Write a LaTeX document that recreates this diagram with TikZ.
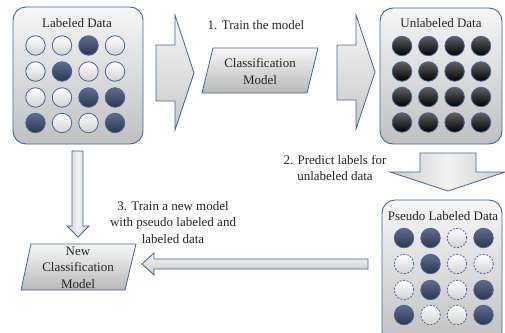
\documentclass[tikz,border=0pt]{standalone}
\usepackage{fontspec}
\setmainfont{Liberation Serif}
\newfontfamily\serft{Liberation Serif}
\definecolor{bcol}{RGB}{70,100,160}
\definecolor{boxtop}{RGB}{246,246,246}
\definecolor{boxbot}{RGB}{192,192,192}
\definecolor{darktop}{RGB}{96,110,140}
\definecolor{darkbot}{RGB}{40,54,82}
\tikzset{
  databox/.style={draw=bcol, line width=0.9pt, rounded corners=13pt, top color=boxtop, bottom color=boxbot},
  blockarrow/.style={draw=bcol, line width=0.8pt, top color=white!97!black, bottom color=black!22},
  vblockarrow/.style={draw=bcol, line width=0.8pt, left color=black!20, right color=black!20, middle color=white!95!black},
  para/.style={draw=bcol, line width=0.8pt, top color=white!97!black, bottom color=black!28},
  wc/.style={circle, minimum size=19.5pt, inner sep=0pt, draw=bcol, line width=0.8pt, top color=white, bottom color=black!18},
  wd/.style={wc, dashed, dash pattern=on 2pt off 1.5pt},
  dc/.style={circle, minimum size=19.5pt, inner sep=0pt, draw=bcol, line width=0.8pt, top color=darktop, bottom color=darkbot},
  bc/.style={circle, minimum size=19.5pt, inner sep=0pt, draw=bcol, line width=0.8pt, top color=black!62, bottom color=black},
  txt/.style={font=\serft\fontsize{13}{16.5}\selectfont, text=black!85, align=center, inner sep=0pt},
}
\begin{document}
\begin{tikzpicture}[x=1pt,y=-1pt]
\useasboundingbox (0,0) rectangle (505,332);
% boxes
\node[databox, minimum width=130pt, minimum height=137pt] (lab) at (78,75.5) {};
\node[txt] (labt) at (77,23) {Labeled Data};
\node[databox, minimum width=122pt, minimum height=136pt] (unl) at (441,76) {};
\node[txt] (unlt) at (441,23) {Unlabeled Data};
\node[databox, minimum width=120pt, minimum height=145pt] (pse) at (442,272.5) {};
\node[txt] (pset) at (443,216) {Pseudo Labeled Data};
% labeled circles
\foreach \r/\y in {1/45.5,2/71.5,3/97.5,4/123}{
  \foreach \c/\x in {1/35.5,2/62,3/88.5,4/115}{
    \coordinate (L\r\c) at (\x,\y);
  }
}
\node[wc] at (L11) {}; \node[wc] at (L12) {}; \node[dc] at (L13) {}; \node[wc] at (L14) {};
\node[wc] at (L21) {}; \node[dc] at (L22) {}; \node[wc] at (L23) {}; \node[wc] at (L24) {};
\node[wc] at (L31) {}; \node[wc] at (L32) {}; \node[dc] at (L33) {}; \node[dc] at (L34) {};
\node[dc] at (L41) {}; \node[wc] at (L42) {}; \node[wc] at (L43) {}; \node[dc] at (L44) {};
% unlabeled circles
\foreach \y in {46,71.5,97,122.5}{
  \foreach \x in {402,428.3,454.6,481}{
    \node[bc] at (\x,\y) {};
  }
}
% pseudo circles
\foreach \r/\y in {1/238,2/264,3/290,4/315}{
  \foreach \c/\x in {1/404,2/430.5,3/457,4/483.5}{
    \coordinate (P\r\c) at (\x,\y);
  }
}
\node[dc] at (P11) {}; \node[dc] at (P12) {}; \node[wd] at (P13) {}; \node[dc] at (P14) {};
\node[wd] at (P21) {}; \node[dc] at (P22) {}; \node[wd] at (P23) {}; \node[wd] at (P24) {};
\node[wd] at (P31) {}; \node[dc] at (P32) {}; \node[wd] at (P33) {}; \node[dc] at (P34) {};
\node[dc] at (P41) {}; \node[wd] at (P42) {}; \node[wd] at (P43) {}; \node[dc] at (P44) {};
% block arrows
\draw[blockarrow] (156,45) -- (175,45) -- (175,15) -- (194,73) -- (175,130) -- (175,101) -- (156,101) -- cycle;
\draw[blockarrow] (337,45) -- (356,45) -- (356,15) -- (375,72) -- (356,129) -- (356,100) -- (337,100) -- cycle;
\draw[vblockarrow] (420,153) -- (476,153) -- (476,172) -- (505,172) -- (448,191) -- (390,172) -- (420,172) -- cycle;
\draw[vblockarrow] (72,151) -- (83,151) -- (83,226) -- (89,226) -- (78,237) -- (67,226) -- (72,226) -- cycle;
\draw[blockarrow] (368,259) -- (368,269) -- (154,269) -- (154,275) -- (142,264) -- (154,253) -- (154,259) -- cycle;
% models
\draw[para] (213,48) -- (318,48) -- (307,93) -- (202,93) -- cycle;
\node[txt] (cm) at (260,71.5) {Classification\\Model};
\draw[para] (31,244) -- (136,244) -- (125,290) -- (21,290) -- cycle;
\node[txt] (ncm) at (78,267.5) {New\\Classification\\Model};
% step labels
\node[txt] (s1) at (256,25) {1. Train the model};
\node[txt] (s2) at (335,168) {2. Predict labels for\\unlabeled data};
\node[txt] (s3) at (173,222.5) {3. Train a new model\\with pseudo labeled and\\labeled data};
\end{tikzpicture}
\end{document}
